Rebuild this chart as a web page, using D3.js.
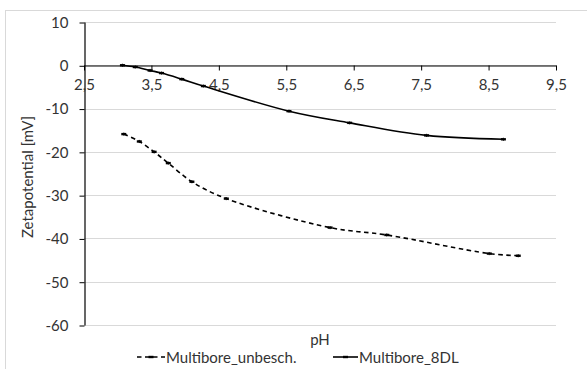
<!DOCTYPE html>
<html>
<head>
<meta charset="utf-8">
<script src="https://cdn.jsdelivr.net/npm/d3@7"></script>
<style>
  html, body { margin: 0; padding: 0; background: #fff; }
  svg { display: block; }
  text { font-family: Lato, "Open Sans", sans-serif; fill: #333; }
</style>
</head>
<body>
<svg id="chart" width="587" height="369"></svg>
<script>
// Zeta potential vs. pH for two membrane variants
const phUnbesch = [3.09, 3.32, 3.54, 3.75, 4.10, 4.61, 6.15, 6.99, 8.51, 8.94];
const zetaUnbesch = [-15.9, -17.6, -20.0, -22.6, -26.9, -30.8, -37.5, -39.2, -43.5, -44.0];

const ph8DL = [3.07, 3.26, 3.48, 3.65, 3.95, 4.27, 5.54, 6.44, 7.58, 8.72];
const zeta8DL = [0.0, -0.4, -1.2, -1.8, -3.2, -4.8, -10.6, -13.3, -16.2, -17.1];

const xTicks = [2.5, 3.5, 4.5, 5.5, 6.5, 7.5, 8.5, 9.5];
const yTicks = [10, 0, -10, -20, -30, -40, -50, -60];

const seriesNames = ["Multibore_unbesch.", "Multibore_8DL"];

const FS = 15;
const svg = d3.select("#chart");

// outer chart frame
svg.append("rect")
  .attr("x", 5.5).attr("y", 10.5)
  .attr("width", 640).attr("height", 420)
  .attr("fill", "none").attr("stroke", "#d9d9d9").attr("stroke-width", 1);

const plot = { left: 84, right: 556, top: 22, bottom: 325 };

const x = d3.scaleLinear().domain([2.5, 9.5]).range([plot.left, plot.right]);
const y = d3.scaleLinear().domain([10, -60]).range([plot.top, plot.bottom]);

// horizontal gridlines
svg.append("g")
  .selectAll("line")
  .data(yTicks)
  .join("line")
  .attr("x1", plot.left).attr("x2", plot.right)
  .attr("y1", d => Math.round(y(d)) + 0.5).attr("y2", d => Math.round(y(d)) + 0.5)
  .attr("stroke", "#d9d9d9").attr("stroke-width", 1);

// y axis (plain hyphen for negative numbers)
const yAxis = svg.append("g")
  .attr("transform", `translate(${plot.left + 0.5},0)`)
  .call(d3.axisLeft(y).tickValues(yTicks).tickSize(5).tickSizeOuter(0).tickPadding(6)
    .tickFormat(d => String(d)));
yAxis.select(".domain").attr("stroke", "#000").attr("stroke-width", 1.2);
yAxis.selectAll(".tick line").attr("stroke", "#000").attr("stroke-width", 1)
  .attr("transform", "translate(0,0.5)");
yAxis.selectAll(".tick text")
  .attr("font-family", "Lato, sans-serif").attr("font-size", FS).attr("fill", "#333")
  .attr("x", -16).attr("dy", "0.36em");

// x axis drawn at zero
const fmtComma = d => d3.format(".1f")(d).replace(".", ",");
const xAxis = svg.append("g")
  .attr("transform", `translate(0,${Math.round(y(0)) + 0.5})`)
  .call(d3.axisBottom(x).tickValues(xTicks).tickSize(5).tickSizeOuter(0).tickPadding(9)
    .tickFormat(fmtComma));
xAxis.select(".domain").attr("stroke", "#000").attr("stroke-width", 1.2);
xAxis.selectAll(".tick line").attr("stroke", "#000").attr("stroke-width", 1);
xAxis.selectAll(".tick text")
  .attr("font-family", "Lato, sans-serif").attr("font-size", FS).attr("fill", "#333");

// axis titles
svg.append("text")
  .attr("x", 320).attr("y", 345)
  .attr("text-anchor", "middle").attr("font-size", FS)
  .text("pH");

svg.append("text")
  .attr("transform", `translate(33,177) rotate(-90)`)
  .attr("text-anchor", "middle").attr("font-size", FS)
  .text("Zetapotential [mV]");

// smoothed series lines
const line = d3.line()
  .x(d => x(d[0]))
  .y(d => y(d[1]))
  .curve(d3.curveCatmullRom.alpha(0.5));

const dataUnbesch = phUnbesch.map((p, i) => [p, zetaUnbesch[i]]);
const data8DL = ph8DL.map((p, i) => [p, zeta8DL[i]]);

const series = [
  { name: seriesNames[0], data: dataUnbesch, dash: "4.5,3.5" },
  { name: seriesNames[1], data: data8DL, dash: null }
];

series.forEach(s => {
  svg.append("path")
    .datum(s.data)
    .attr("d", line)
    .attr("fill", "none")
    .attr("stroke", "#000")
    .attr("stroke-width", 1.6)
    .attr("stroke-dasharray", s.dash);

  const g = svg.append("g");
  // small dash markers with short error bars
  g.selectAll("rect")
    .data(s.data)
    .join("rect")
    .attr("x", d => x(d[0]) - 2.5)
    .attr("y", d => y(d[1]) - 1.2)
    .attr("width", 5).attr("height", 2.4)
    .attr("fill", "#000");
  g.selectAll("line")
    .data(s.data)
    .join("line")
    .attr("x1", d => x(d[0])).attr("x2", d => x(d[0]))
    .attr("y1", d => y(d[1]) - 1.6).attr("y2", d => y(d[1]) + 1.6)
    .attr("stroke", "#000").attr("stroke-width", 0.8);
});

// legend
const legendItems = [
  { name: seriesNames[0], x0: 137, x1: 165, dash: "4.5,3.5", tx: 166 },
  { name: seriesNames[1], x0: 333, x1: 358, dash: null, tx: 359 }
];
const legendY = 357;
legendItems.forEach(it => {
  svg.append("line")
    .attr("x1", it.x0).attr("x2", it.x1)
    .attr("y1", legendY).attr("y2", legendY)
    .attr("stroke", "#000").attr("stroke-width", 1.6)
    .attr("stroke-dasharray", it.dash);
  const cx = (it.x0 + it.x1) / 2;
  svg.append("rect")
    .attr("x", cx - 2.5).attr("y", legendY - 1.2)
    .attr("width", 5).attr("height", 2.4).attr("fill", "#000");
  svg.append("text")
    .attr("x", it.tx).attr("y", legendY + 5.5)
    .attr("font-size", FS)
    .text(it.name);
});
</script>
</body>
</html>
